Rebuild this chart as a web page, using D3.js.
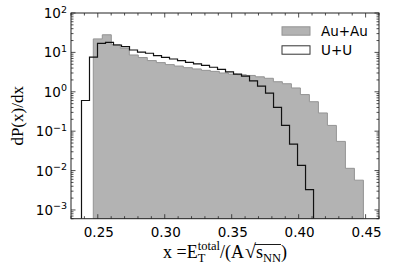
<!DOCTYPE html>
<html>
<head>
<meta charset="utf-8">
<script src="https://cdn.jsdelivr.net/npm/d3@7"></script>
<style>
  body { margin: 0; background: #fff; }
  svg { display: block; }
</style>
</head>
<body>
<div id="chart"></div>
<script>
const width = 399, height = 267;
const plot = { left: 71, right: 379, top: 13, bottom: 218.7 };

// histogram bins (left edge + bin width)
const auAuStart = 0.24664, auAuWidth = 0.006724;
const auAuValues = [22, 28, 15.7, 12.7, 8.6, 7.4, 6.2, 5.5, 4.9, 4.5,
                    4.1, 3.8, 3.5, 3.3, 3.0, 2.8, 2.7, 2.6, 2.4, 2.2,
                    1.8, 1.6, 1.25, 0.85, 0.56, 0.29, 0.14, 0.055, 0.0114, 0.0057];

const uuStart = 0.23784, uuWidth = 0.005975;
const uuValues = [0.6, 7.6, 17, 18, 15.4, 14, 11.5, 10.2, 9.5, 8.3,
                  7.5, 6.8, 6.2, 5.6, 5.1, 4.7, 4.2, 3.7, 3.2, 2.8,
                  2.5, 1.9, 1.4, 0.92, 0.40, 0.14, 0.047, 0.0136, 0.0033];

const xTicks = [0.25, 0.30, 0.35, 0.40, 0.45];
const xTickLabels = ['0.25', '0.30', '0.35', '0.40', '0.45'];
const yTickExps = [2, 1, 0, -1, -2, -3];
const legendLabels = ['Au+Au', 'U+U'];

const x = d3.scaleLinear().domain([0.23, 0.46]).range([plot.left, plot.right]);
const y = d3.scaleLog().domain([6e-4, 100]).range([plot.bottom, plot.top]);
const yMin = y.domain()[0];

const svg = d3.select('#chart')
    .append('svg')
    .attr('width', width)
    .attr('height', height);

svg.append('defs').append('clipPath')
    .attr('id', 'clip')
    .append('rect')
    .attr('x', plot.left).attr('y', plot.top)
    .attr('width', plot.right - plot.left)
    .attr('height', plot.bottom - plot.top);

function stepPoints(start, w, values) {
    const pts = [[x(start), y(yMin)]];
    values.forEach((v, i) => {
        pts.push([x(start + i * w), y(v)]);
        pts.push([x(start + (i + 1) * w), y(v)]);
    });
    pts.push([x(start + values.length * w), y(yMin)]);
    return pts;
}

const line = d3.line();
const g = svg.append('g').attr('clip-path', 'url(#clip)');

g.append('path')
    .attr('d', line(stepPoints(auAuStart, auAuWidth, auAuValues)) + 'Z')
    .attr('fill', '#b3b3b3')
    .attr('stroke', '#949494')
    .attr('stroke-width', 1);

g.append('path')
    .attr('d', line(stepPoints(uuStart, uuWidth, uuValues)))
    .attr('fill', 'none')
    .attr('stroke', '#111')
    .attr('stroke-width', 1.2);

// frame
svg.append('rect')
    .attr('x', plot.left).attr('y', plot.top)
    .attr('width', plot.right - plot.left)
    .attr('height', plot.bottom - plot.top)
    .attr('fill', 'none')
    .attr('stroke', '#222')
    .attr('stroke-width', 1);

const ticks = svg.append('g').attr('stroke', '#222').attr('stroke-width', 0.8);

// x ticks: major + minor every 0.01, bottom and top, pointing in
const xMinor = d3.range(23, 47).map(d => d / 100);
xMinor.forEach(v => {
    const len = xTicks.some(t => Math.abs(t - v) < 1e-9) ? 4.5 : 2.5;
    ticks.append('line').attr('x1', x(v)).attr('x2', x(v))
        .attr('y1', plot.bottom).attr('y2', plot.bottom - len);
    ticks.append('line').attr('x1', x(v)).attr('x2', x(v))
        .attr('y1', plot.top).attr('y2', plot.top + len);
});

// y ticks: decades + 2..9 minors, left and right
for (let k = -4; k <= 2; k++) {
    for (let m = 1; m <= 9; m++) {
        const v = m * Math.pow(10, k);
        if (v < yMin || v > 100) continue;
        const len = m === 1 ? 4.5 : 2.5;
        ticks.append('line').attr('x1', plot.left).attr('x2', plot.left + len)
            .attr('y1', y(v)).attr('y2', y(v));
        ticks.append('line').attr('x1', plot.right).attr('x2', plot.right - len)
            .attr('y1', y(v)).attr('y2', y(v));
    }
}

const sans = 'DejaVu Sans';

svg.selectAll('.xlab')
    .data(xTicks)
    .enter()
    .append('text')
    .attr('x', d => x(d) + 1)
    .attr('y', 236.5)
    .attr('text-anchor', 'middle')
    .style('font-family', sans)
    .style('font-size', '13.5px')
    .text((d, i) => xTickLabels[i]);

yTickExps.forEach(e => {
    const t = svg.append('text')
        .attr('x', 67)
        .attr('y', y(Math.pow(10, e)) + 5)
        .attr('text-anchor', 'end')
        .style('font-family', sans)
        .style('font-size', '13.5px');
    t.append('tspan').text('10');
    t.append('tspan')
        .attr('dy', -5.5)
        .style('font-size', '9.5px')
        .text(e < 0 ? '\u2212' + (-e) : String(e));
});

// y axis title
const serif = 'Liberation Serif';
svg.append('text')
    .attr('transform', `translate(23,${(plot.top + plot.bottom) / 2}) rotate(-90)`)
    .attr('text-anchor', 'middle')
    .style('font-family', serif)
    .style('font-size', '17px')
    .text('dP(x)/dx');

// x axis title: x = E_T^total/(A sqrt(s_NN))
const xt = svg.append('text')
    .attr('y', 258)
    .style('font-family', serif)
    .style('font-size', '18px');
xt.append('tspan').text('x =E');
const tSub = xt.append('tspan').attr('dy', 4).style('font-size', '12.5px').text('T');
const tSup = xt.append('tspan').attr('dy', -12).style('font-size', '12.5px').text('total');
xt.append('tspan').attr('dy', 8).text('/(A');
xt.append('tspan').attr('dx', 1).style('font-size', '20px').text('\u221A');
xt.append('tspan').text('s');
xt.append('tspan').attr('dy', 4).style('font-size', '12.5px').text('NN');
xt.append('tspan').attr('dy', -4).text(')');
tSup.attr('dx', -tSub.node().getComputedTextLength());

const xtW = xt.node().getBBox().width;
xt.attr('x', (plot.left + plot.right) / 2 - xtW / 2);

// overline for the root
const full = xt.node();
const str = 'x =ETtotal/(A\u221AsNN)';
const rootIdx = str.indexOf('\u221A');
const closeIdx = str.indexOf(')', rootIdx);
const ox1 = full.getEndPositionOfChar(rootIdx).x - 1;
const ox2 = full.getStartPositionOfChar(closeIdx).x;
svg.append('line')
    .attr('x1', ox1).attr('x2', ox2)
    .attr('y1', 244.5).attr('y2', 244.5)
    .attr('stroke', '#000')
    .attr('stroke-width', 0.9);

// legend
const legend = svg.append('g');
const legendStyles = [
    { fill: '#b3b3b3', stroke: '#949494' },
    { fill: '#fff', stroke: '#333' }
];
legendLabels.forEach((lab, i) => {
    const cy = 31 + i * 19;
    legend.append('rect')
        .attr('x', 282).attr('y', cy - 4.2)
        .attr('width', 28).attr('height', 8.4)
        .attr('fill', legendStyles[i].fill)
        .attr('stroke', legendStyles[i].stroke)
        .attr('stroke-width', 1);
    legend.append('text')
        .attr('x', 321).attr('y', cy + 5)
        .style('font-family', sans)
        .style('font-size', '13.5px')
        .text(lab);
});
</script>
</body>
</html>
